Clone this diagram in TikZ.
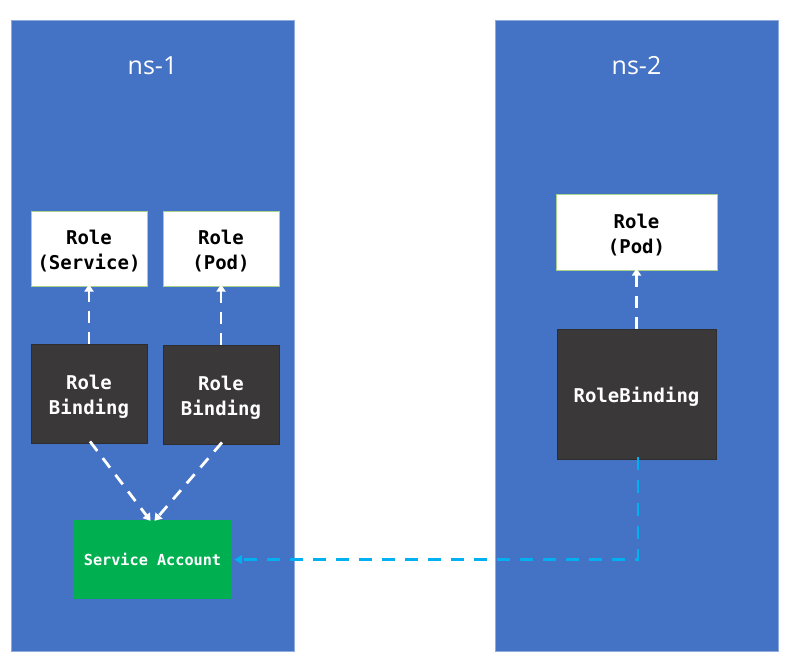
\documentclass[tikz,border=0pt]{standalone}
\usepackage{fontspec}
\setmainfont{Open Sans}
\setmonofont{DejaVu Sans Mono}
\usetikzlibrary{arrows.meta}
\definecolor{nsblue}{HTML}{4472C4}
\definecolor{nsedge}{HTML}{8FAADC}
\definecolor{rolebd}{HTML}{A9D18E}
\definecolor{bindfill}{HTML}{3A3838}
\definecolor{sagreen}{HTML}{00B050}
\definecolor{linkblue}{HTML}{00B0F0}
% invisible strut that lowers a node's text a little
\newcommand{\lowerstrut}{\rule{0pt}{20pt}}
\tikzset{
  nspanel/.style={fill=nsblue, draw=nsedge, line width=0.8pt},
  nstitle/.style={text=white, font=\fontsize{25}{29}\selectfont},
  rolebox/.style={fill=white, draw=rolebd, line width=1pt, inner sep=0pt,
    align=center, font=\ttfamily\bfseries\fontsize{19}{25}\selectfont},
  bindbox/.style={fill=bindfill, draw=bindfill!80!black, line width=0.8pt, inner sep=0pt,
    text=white, align=center, font=\ttfamily\bfseries\fontsize{19}{25}\selectfont},
  sabox/.style={fill=sagreen, draw=none, inner sep=0pt, text=white,
    font=\ttfamily\bfseries\fontsize{15.2}{18}\selectfont},
  whitelink/.style={draw=white, line width=2.8pt, dash pattern=on 12pt off 9pt,
    -{Triangle[length=7pt,width=9pt]}},
  bluelink/.style={draw=linkblue, line width=2.8pt, dash pattern=on 13pt off 10pt,
    -{Triangle[length=8pt,width=9pt]}}
}
\begin{document}
\begin{tikzpicture}[x=1pt,y=-1pt]
  \useasboundingbox (0,0) rectangle (798,662);
  \fill[white] (0,0) rectangle (798,662);

  % namespaces
  \draw[nspanel] (11,20) rectangle (294,651);
  \draw[nspanel] (495,20) rectangle (778,651);
  \node[nstitle] (t1) at (152.5,66) {ns-1};
  \node[nstitle] (t2) at (636.5,66) {ns-2};

  % ns-1 objects
  \node[rolebox, minimum width=116pt, minimum height=75pt] (role1) at (89,248.5) {\lowerstrut Role\\(Service)};
  \node[rolebox, minimum width=116pt, minimum height=75pt] (role2) at (221,248.5) {\lowerstrut Role\\(Pod)};
  \node[bindbox, minimum width=116pt, minimum height=99pt] (rb1) at (89,393.5) {\lowerstrut Role\\Binding};
  \node[bindbox, minimum width=116pt, minimum height=99pt] (rb2) at (221,394.5) {\lowerstrut Role\\Binding};
  \node[sabox, minimum width=159pt, minimum height=79pt] (sa) at (152.5,559.5) {Service Account};

  % ns-2 objects
  \node[rolebox, minimum width=161pt, minimum height=76pt] (role3) at (636.5,232) {\lowerstrut Role\\(Pod)};
  \node[bindbox, minimum width=159pt, minimum height=130pt] (rb3) at (636.5,394) {\lowerstrut RoleBinding};

  % bindings to roles
  \draw[whitelink] (rb1.north) -- ([yshift=2pt]role1.south);
  \draw[whitelink] (rb2.north) -- ([yshift=2pt]role2.south);
  \draw[whitelink] (rb3.north) -- ([yshift=2pt]role3.south);

  % bindings to the service account
  \draw[whitelink] ([xshift=1pt,yshift=2pt]rb1.south) -- ([xshift=-2pt,yshift=-1pt]sa.north);
  \draw[whitelink] ([xshift=1pt,yshift=2pt]rb2.south) -- ([xshift=2pt,yshift=-1pt]sa.north);

  % cross-namespace binding
  \coordinate (bend) at (rb3.south |- sa.east);
  \draw[bluelink] ([xshift=1.5pt,yshift=2pt]rb3.south) -- ([xshift=1.5pt]bend) -- ([xshift=2pt]sa.east);
\end{tikzpicture}
\end{document}
